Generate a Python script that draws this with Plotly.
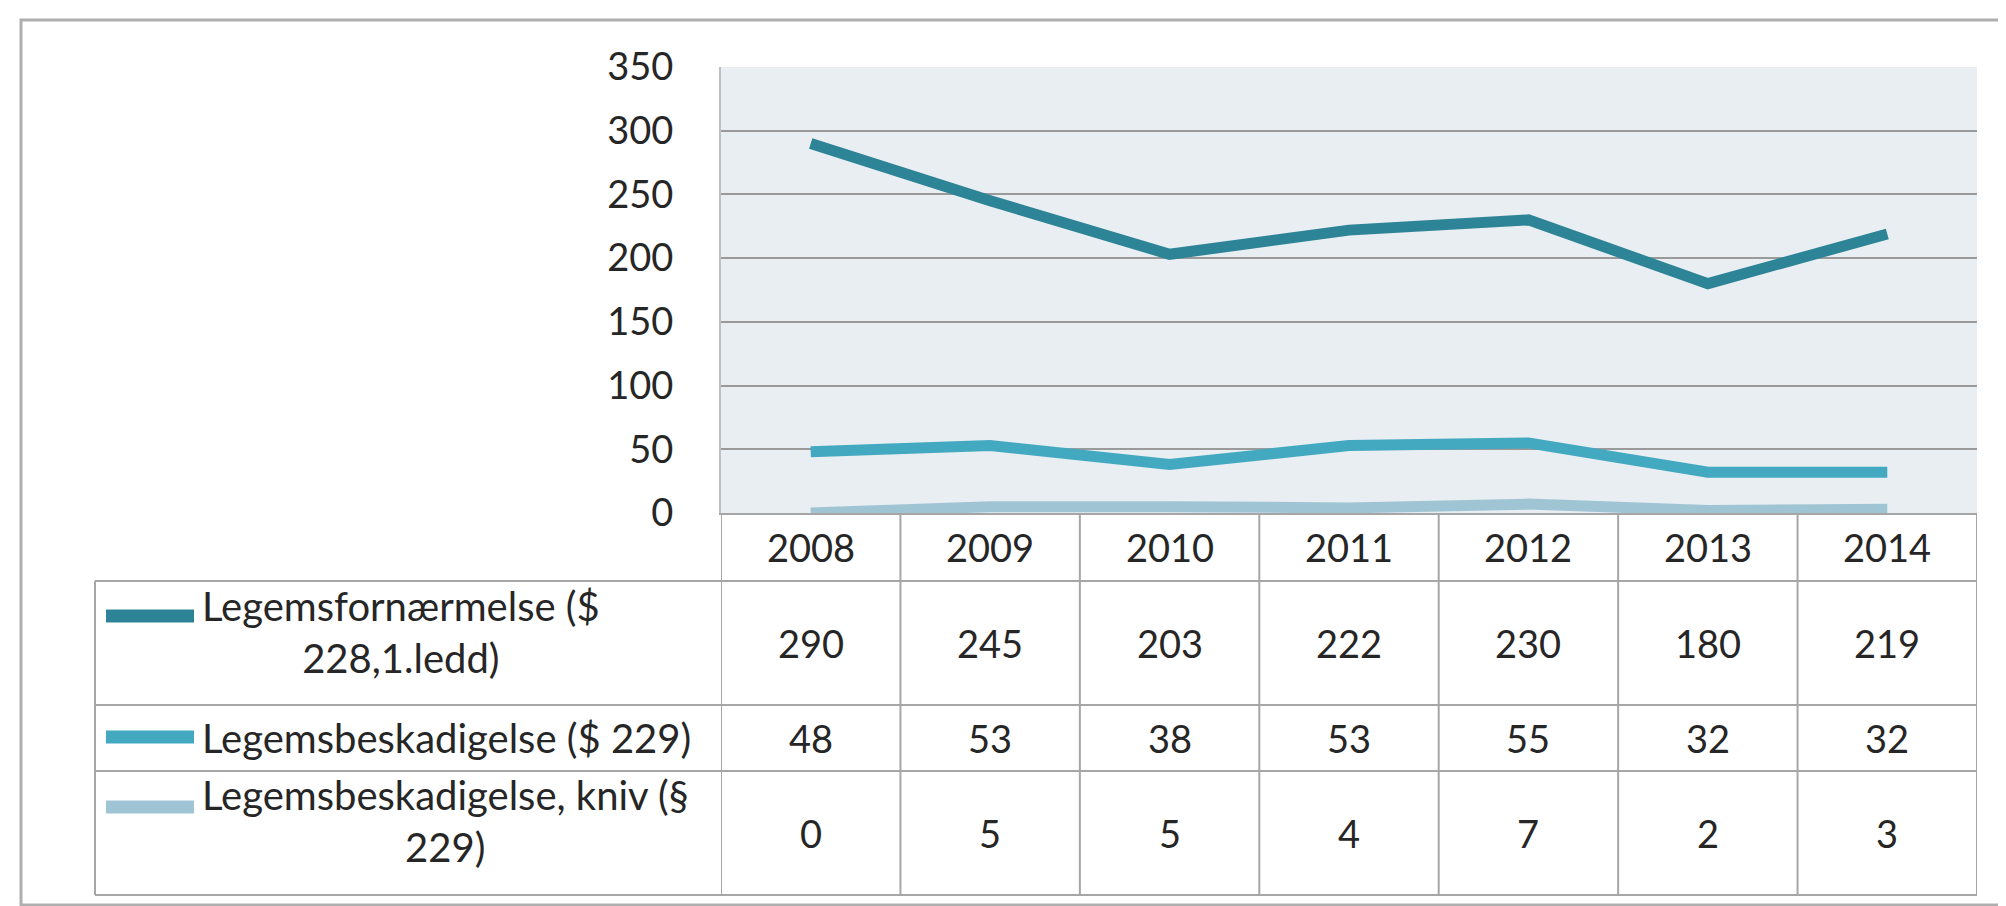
import plotly.graph_objects as go

years = ["2008", "2009", "2010", "2011", "2012", "2013", "2014"]
s1_name = "Legemsfornærmelse ($<br>228,1.ledd)"
s2_name = "Legemsbeskadigelse ($ 229)"
s3_name = "Legemsbeskadigelse, kniv (§<br>229)"
s1 = [290, 245, 203, 222, 230, 180, 219]
s2 = [48, 53, 38, 53, 55, 32, 32]
s3 = [0, 5, 5, 4, 7, 2, 3]
y_ticks = [0, 50, 100, 150, 200, 250, 300, 350]

names = [s1_name, s2_name, s3_name]
series = [s1, s2, s3]
colors = ["#2E8497", "#43A9C1", "#9FC5D5"]

W, H = 2006, 906
L, R, T, B = 713, 37, 59, 401
PW = W - L - R
PH = H - T - B


def px(X):
    return (X - L) / PW


def py(Y):
    return (H - B - Y) / PH


FONT = "Lato, 'Open Sans', sans-serif"
FS_NUM = 38
FS_LAB = 40
TXT = "#262626"
GRID = "#9A9A9A"
TLINE = "#A6A6A6"

fig = go.Figure()
for nm, vals, c in zip(names, series, colors):
    fig.add_trace(go.Scatter(x=years, y=vals, mode="lines", name=nm.replace("<br>", " "),
                             line=dict(color=c, width=11), showlegend=False))

shapes = []
# outer frame
shapes.append(dict(type="rect", xref="paper", yref="paper", x0=px(13), x1=px(1998),
                   y0=py(897), y1=py(12), line=dict(color="#AFAFAF", width=3), layer="below"))

# table row boundaries (pixel rows)
row_bounds = [573, 697, 763, 887]
for Y in row_bounds:
    shapes.append(dict(type="line", xref="paper", yref="paper", x0=px(87), x1=1,
                       y0=py(Y), y1=py(Y), line=dict(color=TLINE, width=2)))
# left edge of table
shapes.append(dict(type="line", xref="paper", yref="paper", x0=px(87), x1=px(87),
                   y0=py(573), y1=py(887), line=dict(color=TLINE, width=2)))
# column boundaries
for k in range(len(years) + 1):
    shapes.append(dict(type="line", xref="x", yref="paper", x0=k - 0.5, x1=k - 0.5,
                       y0=0, y1=py(887), line=dict(color=TLINE, width=2)))

# legend keys
key_y = [608, 729, 799]
for ky, c in zip(key_y, colors):
    shapes.append(dict(type="line", xref="paper", yref="paper", x0=px(98), x1=px(186),
                       y0=py(ky), y1=py(ky), line=dict(color=c, width=13)))

ann = []
# year header (category index positions on the x axis)
for i, yr in enumerate(years):
    ann.append(dict(x=i, xref="x", y=py(539), yref="paper", text=yr, showarrow=False,
                    font=dict(family=FONT, size=FS_NUM, color=TXT), xanchor="center", yanchor="middle"))
# cell values
row_centers = [635, 730, 825]
for vals, rc in zip(series, row_centers):
    for i, v in enumerate(vals):
        ann.append(dict(x=i, xref="x", y=py(rc), yref="paper", text=str(v), showarrow=False,
                        font=dict(family=FONT, size=FS_NUM, color=TXT), xanchor="center", yanchor="middle"))
# row labels
label_centers = [624, 730, 813]
for nm, lc in zip(names, label_centers):
    ann.append(dict(x=px(192), xref="paper", y=py(lc), yref="paper", text=nm, showarrow=False,
                    align="center", font=dict(family=FONT, size=FS_LAB, color=TXT),
                    xanchor="left", yanchor="middle"))

fig.update_layout(
    width=W, height=H,
    margin=dict(l=L, r=R, t=T, b=B, pad=0),
    paper_bgcolor="white",
    plot_bgcolor="#E9EEF2",
    shapes=shapes,
    annotations=ann,
    showlegend=False,
    xaxis=dict(type="category", range=[-0.5, len(years) - 0.5], showticklabels=False,
               showgrid=False, zeroline=False, showline=True, linecolor=TLINE, linewidth=2,
               ticks=""),
    yaxis=dict(range=[0, 350], tickvals=y_ticks, showgrid=True, gridcolor=GRID, gridwidth=2,
               zeroline=False, showline=True, linecolor="#C0C0C0", linewidth=2, ticks="",
               ticklabelstandoff=38,
               tickfont=dict(family=FONT, size=FS_NUM, color=TXT)),
)

fig.write_html("out.html")
